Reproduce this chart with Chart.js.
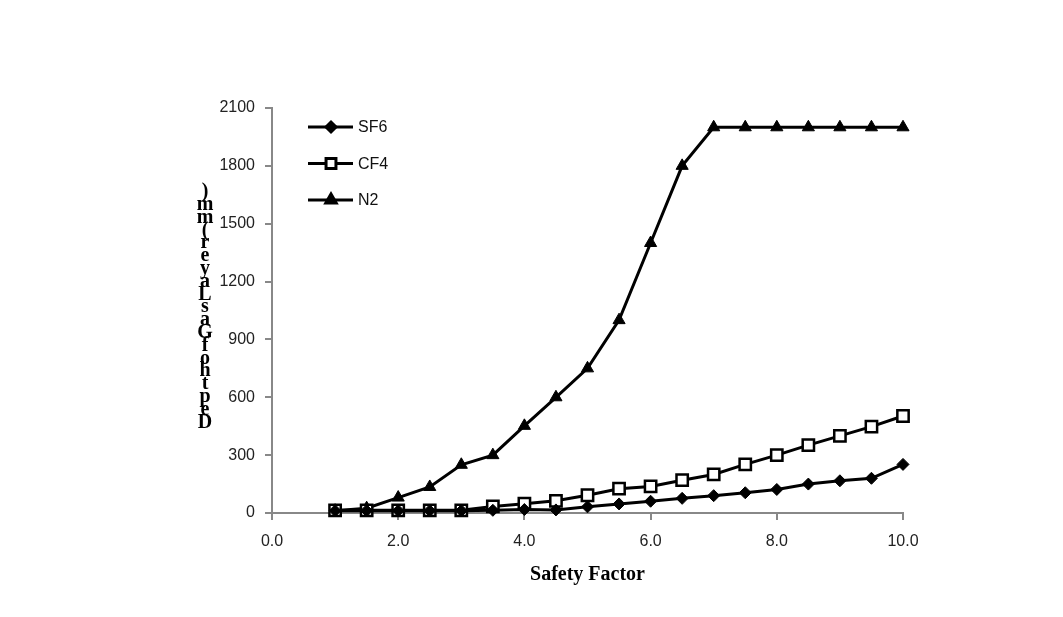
<!DOCTYPE html>
<html>
<head>
<meta charset="utf-8">
<script src="https://cdn.jsdelivr.net/npm/chart.js@4.4.1/dist/chart.umd.min.js"></script>
<style>
  html, body { margin: 0; padding: 0; background: #fff; }
</style>
</head>
<body>
<canvas id="chart" width="1063" height="617"></canvas>
<script>
// safety factor values (x)
const safetyFactor = [1.0, 1.5, 2.0, 2.5, 3.0, 3.5, 4.0, 4.5, 5.0, 5.5, 6.0, 6.5, 7.0, 7.5, 8.0, 8.5, 9.0, 9.5, 10.0]

// depth of gas layer per gas
const sf6 = [12, 12, 12, 12, 12, 14, 18, 16, 32, 47, 61, 76, 90, 105, 122, 150, 167, 180, 252]
const cf4 = [14, 14, 14, 14, 14, 34, 48, 63, 92, 126, 138, 170, 200, 252, 300, 352, 400, 448, 503]
const n2 = [12, 25, 80, 135, 250, 300, 452, 600, 750, 1000, 1400, 1800, 2000, 2000, 2000, 2000, 2000, 2000, 2000]

const xTicks = [0, 2, 4, 6, 8, 10]
const yTicks = [0, 300, 600, 900, 1200, 1500, 1800, 2100]

const yTitle = 'Depth of Gas Layer (mm)'
const xTitle = 'Safety Factor'

function toPoints(values) {
    return values.map((v, i) => ({ x: safetyFactor[i], y: v }))
}

// the garbled vertical y title (letters stacked, bottom to top)
const yTitlePlugin = {
    id: 'yTitle',
    afterDraw(chart) {
        const ctx = chart.ctx
        const chars = yTitle.replace(/ /g, '').split('').reverse()
        ctx.save()
        ctx.font = 'bold 20px "Liberation Serif"'
        ctx.fillStyle = '#000'
        ctx.textAlign = 'center'
        ctx.textBaseline = 'middle'
        chars.forEach((c, i) => {
            ctx.fillText(c, 205, 192 + i * 12.8)
        })
        ctx.restore()
    }
}

// legend inside the plot at top left
const legendPlugin = {
    id: 'innerLegend',
    afterDatasetsDraw(chart) {
        const ctx = chart.ctx
        ctx.save()
        chart.data.datasets.forEach((ds, i) => {
            const y = 127 + i * 36.5
            ctx.strokeStyle = '#000'
            ctx.lineWidth = 3
            ctx.beginPath()
            ctx.moveTo(308, y)
            ctx.lineTo(353, y)
            ctx.stroke()
            ctx.fillStyle = ds.pointBackgroundColor
            ctx.strokeStyle = '#000'
            Chart.helpers.drawPoint(ctx, {
                pointStyle: ds.pointStyle,
                radius: ds.pointRadius - 1,
                borderWidth: ds.pointBorderWidth
            }, 331, y)
            ctx.fillStyle = '#111'
            ctx.font = '16px "Liberation Sans"'
            ctx.textBaseline = 'middle'
            ctx.fillText(ds.label, 358, y + 1)
        })
        ctx.restore()
    }
}

const canvas = document.querySelector('#chart')

new Chart(canvas.getContext('2d'), {
    type: 'line',
    data: {
        datasets: [{
            label: 'SF6',
            data: toPoints(sf6),
            borderColor: '#000',
            backgroundColor: '#000',
            borderWidth: 3,
            pointStyle: 'rectRot',
            pointRadius: 6,
            pointBorderWidth: 1,
            pointBackgroundColor: '#000',
            pointBorderColor: '#000',
            clip: false
        }, {
            label: 'CF4',
            data: toPoints(cf4),
            borderColor: '#000',
            backgroundColor: '#fff',
            borderWidth: 3,
            pointStyle: 'rect',
            pointRadius: 8,
            pointBorderWidth: 2.5,
            pointBackgroundColor: '#fff',
            pointBorderColor: '#000',
            clip: false
        }, {
            label: 'N2',
            data: toPoints(n2),
            borderColor: '#000',
            backgroundColor: '#000',
            borderWidth: 3,
            pointStyle: 'triangle',
            pointRadius: 7,
            pointBorderWidth: 1,
            pointBackgroundColor: '#000',
            pointBorderColor: '#000',
            clip: false
        }]
    },
    options: {
        responsive: false,
        animation: false,
        devicePixelRatio: 1,
        layout: { padding: { left: 190, right: 160, top: 108, bottom: 0 } },
        plugins: {
            legend: { display: false },
            tooltip: { enabled: false }
        },
        scales: {
            x: {
                type: 'linear',
                min: 0,
                max: 10,
                afterBuildTicks(scale) { scale.ticks = xTicks.map(v => ({ value: v })) },
                afterFit(scale) { scale.height = 104 },
                grid: {
                    display: true,
                    drawOnChartArea: false,
                    drawTicks: true,
                    tickLength: 7,
                    color: '#888',
                    lineWidth: 2
                },
                border: { color: '#888', width: 2 },
                ticks: {
                    color: '#222',
                    font: { family: 'Liberation Sans', size: 16 },
                    padding: 12,
                    maxRotation: 0,
                    callback: v => Number(v).toFixed(1)
                },
                title: {
                    display: true,
                    text: xTitle,
                    color: '#000',
                    font: { family: 'Liberation Serif', size: 20, weight: 'bold' },
                    padding: { top: 8, bottom: 30 }
                }
            },
            y: {
                min: 0,
                max: 2100,
                afterBuildTicks(scale) { scale.ticks = yTicks.map(v => ({ value: v })) },
                afterFit(scale) { scale.width = 82 },
                grid: {
                    display: true,
                    drawOnChartArea: false,
                    drawTicks: true,
                    tickLength: 7,
                    color: '#888',
                    lineWidth: 2
                },
                border: { color: '#888', width: 2 },
                ticks: {
                    color: '#222',
                    font: { family: 'Liberation Sans', size: 16 },
                    padding: 10,
                    callback: v => String(v)
                }
            }
        }
    },
    plugins: [yTitlePlugin, legendPlugin]
})
</script>
</body>
</html>
